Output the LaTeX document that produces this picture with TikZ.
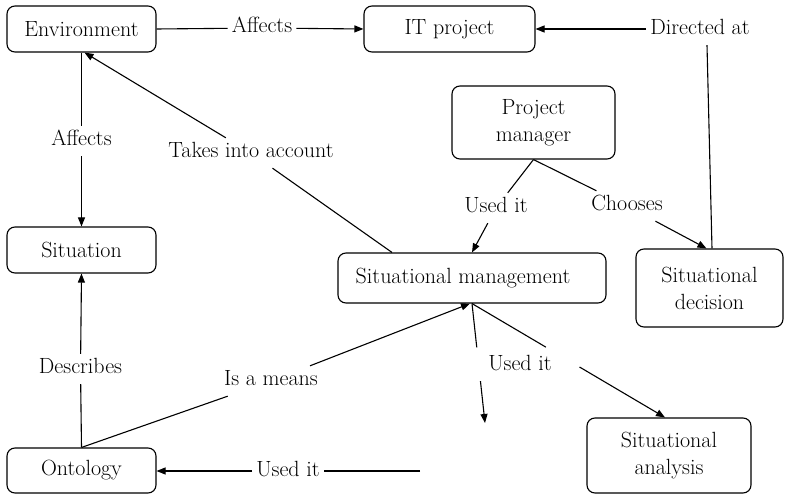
\documentclass[tikz,border=0pt]{standalone}
\usepackage{fontspec}
\usetikzlibrary{arrows.meta,calc}
\newcommand\dfont{\fontsize{22}{27}\selectfont}
\begin{document}
\begin{tikzpicture}[x=1pt,y=-1pt,
  box/.style={draw, rounded corners=8pt, line width=1.1pt, align=center, inner sep=0pt, font=\dfont},
  lbl/.style={inner xsep=4pt, inner ysep=5pt, text height=15pt, text depth=5pt, font=\dfont},
  con/.style={line width=1.1pt},
  arr/.style={con, -{Triangle[length=9pt,width=7pt]}}]
\useasboundingbox (0,0) rectangle (785,494);
% boxes
\node[box, minimum width=149pt, minimum height=46pt] (env) at (81.5,29) {Environment};
\node[box, minimum width=171pt, minimum height=46pt] (it) at (449.5,29) {IT project};
\node[box, minimum width=163pt, minimum height=73pt] (pm) at (533.5,122.5) {Project\\manager};
\node[box, minimum width=149pt, minimum height=46pt] (sit) at (81.5,250) {Situation};
\node[box, minimum width=268pt, minimum height=50pt] (sm) at (472,278) {\hbox{Situational management\kern18pt}};
\node[box, minimum width=147pt, minimum height=78pt] (sd) at (709.5,288) {Situational\\decision};
\node[box, minimum width=164pt, minimum height=75pt] (sa) at (669,455.5) {Situational\\analysis};
\node[box, minimum width=149pt, minimum height=45pt] (ont) at (81.5,470.5) {Ontology};
% labels
\node[lbl] (a1) at (262,28) {Affects};
\node[lbl] (dir) at (700,30) {Directed at};
\node[lbl] (a2) at (81.5,141) {Affects};
\node[lbl] (tia) at (251,153) {Takes into account};
\node[lbl] (u1) at (496,208) {Used it};
\node[lbl] (ch) at (627,206) {Chooses};
\node[lbl] (desc) at (80.5,369) {Describes};
\node[lbl] (iam) at (271,381) {Is a means};
\node[lbl] (u2) at (520,366) {Used it};
\node[lbl] (u3) at (288,471) {Used it};
\coordinate (fe1) at (485,423);
\coordinate (fe2) at (420,471);
% connectors
\draw[con] (env.east) -- (a1);
\draw[arr] (a1) -- (it.west);
\draw[arr] (dir.west |- it.east) -- (it.east);
\draw[con] ($(dir.south)+(7,0)$) -- ($(sd.north)+(2.5,0)$);
\draw[con] (env.south) -- (a2);
\draw[arr] (a2) -- (sit.north);
\draw[con] ([xshift=-80pt]sm.north) -- (tia);
\draw[arr] (tia) -- ([xshift=3pt]env.south);
\draw[con] (pm.south) -- (u1);
\draw[arr] (u1) -- (sm.north);
\draw[con] (pm.south) -- (ch);
\draw[arr] (ch) -- ($(sd.north)+(-3,0)$);
\draw[con] (ont.north) -- (desc);
\draw[arr] (desc) -- (sit.south);
\draw[con] (ont.north) -- (iam);
\draw[arr] (iam) -- ([xshift=-2pt]sm.south);
\draw[con] (sm.south) -- ($(sm.south)!0.367!(fe1)$);
\draw[arr] ($(sm.south)!0.65!(fe1)$) -- (fe1);
\draw[con] (sm.south) -- ($(sm.south)!0.383!([xshift=-4pt]sa.north)$);
\draw[arr] ($(sm.south)!0.557!([xshift=-4pt]sa.north)$) -- ([xshift=-4pt]sa.north);
\draw[con] (fe2) -- (u3);
\draw[arr] (u3.west) -- (u3.west -| ont.east);
\end{tikzpicture}
\end{document}
